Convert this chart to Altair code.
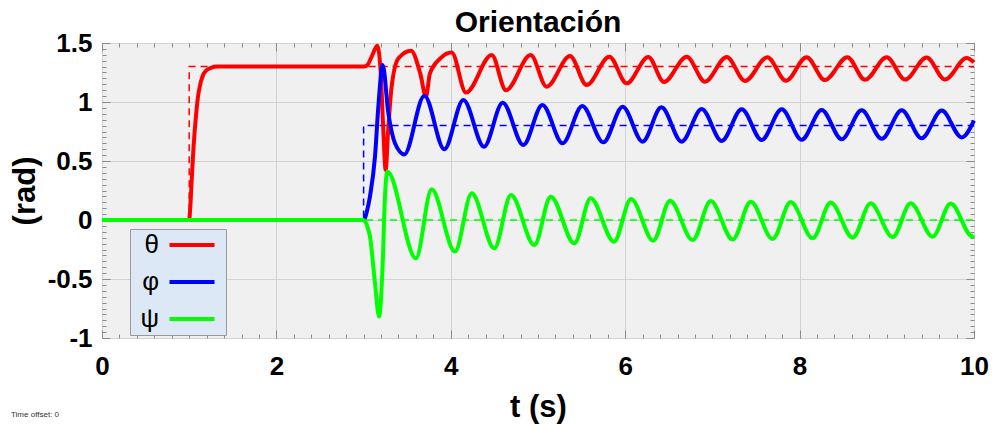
import altair as alt
import pandas as pd

# ---------------- data ----------------
series_names = ["θ", "φ", "ψ"]
series_colors = ["#ff0000", "#0000ff", "#00ff00"]

theta_t = [0, 1.0, 1.01, 1.03, 1.05, 1.08, 1.1, 1.13, 1.16, 1.2, 1.25, 1.32, 3.0, 3.04, 3.09, 3.157,
           3.2, 3.226, 3.253, 3.28, 3.32, 3.4, 3.544, 3.65, 3.716, 3.76, 3.88, 4.01, 4.174, 4.469,
           4.633, 4.916, 5.099, 5.367, 5.558, 5.818, 6.017, 6.265, 6.445, 6.705, 6.915, 7.164,
           7.374, 7.63, 7.844, 8.08, 8.29, 8.547, 8.75, 8.999, 9.21, 9.457, 9.667, 9.916, 10.0]
theta_v = [0, 0, 0.08, 0.36, 0.62, 0.9, 1.04, 1.16, 1.23, 1.27, 1.29, 1.3, 1.3, 1.31, 1.38, 1.477,
           1.2, 0.76, 0.424, 0.74, 1.12, 1.37, 1.435, 1.24, 1.045, 1.24, 1.37, 1.42, 1.08, 1.398,
           1.10, 1.398, 1.13, 1.39, 1.144, 1.384, 1.158, 1.382, 1.17, 1.384, 1.172, 1.382,
           1.178, 1.38, 1.18, 1.38, 1.186, 1.38, 1.188, 1.379, 1.19, 1.378, 1.19, 1.373, 1.336]

phi_t = [0, 3.0, 3.04, 3.073, 3.131, 3.169, 3.219, 3.284, 3.36, 3.467, 3.697, 3.926, 4.144, 4.381,
         4.595, 4.832, 5.05, 5.283, 5.508, 5.749, 5.971, 6.2, 6.415, 6.648, 6.877, 7.107, 7.336,
         7.565, 7.795, 8.024, 8.253, 8.483, 8.712, 8.942, 9.171, 9.4, 9.63, 9.859, 10.0]
phi_v = [0, 0, 0.08, 0.2, 0.54, 0.96, 1.314, 0.904, 0.65, 0.556, 1.054, 0.60, 1.017, 0.621,
         0.994, 0.636, 0.975, 0.65, 0.966, 0.658, 0.96, 0.664, 0.955, 0.664, 0.94, 0.67, 0.938,
         0.678, 0.938, 0.68, 0.932, 0.684, 0.93, 0.688, 0.93, 0.692, 0.927, 0.70, 0.842]

psi_t = [0, 3.0, 3.04, 3.073, 3.131, 3.177, 3.219, 3.245, 3.272, 3.6, 3.78, 4.048, 4.24, 4.499,
         4.69, 4.958, 5.146, 5.417, 5.604, 5.872, 6.067, 6.322, 6.514, 6.774, 6.98, 7.233, 7.44,
         7.69, 7.898, 8.15, 8.357, 8.609, 8.815, 9.067, 9.274, 9.526, 9.733, 9.98, 10.0]
psi_v = [0, 0, -0.05, -0.14, -0.537, -0.819, -0.367, 0.198, 0.41, -0.325, 0.26, -0.268, 0.226,
         -0.24, 0.212, -0.212, 0.198, -0.198, 0.184, -0.184, 0.178, -0.175, 0.164, -0.17, 0.16,
         -0.165, 0.155, -0.161, 0.152, -0.155, 0.148, -0.15, 0.141, -0.145, 0.141, -0.141, 0.14,
         -0.138, -0.13]

# reference (set-point) signals, drawn as step-after lines
ref_theta_t = [0, 1.0, 10.0]
ref_theta_v = [0, 1.3, 1.3]
ref_phi_t = [0, 3.0, 10.0]
ref_phi_v = [0, 0.8, 0.8]
ref_psi_t = [0, 10.0]
ref_psi_v = [0, 0]

x_major = [0, 2, 4, 6, 8, 10]
x_minor = [round(i * 0.2, 1) for i in range(51)]
y_major = [-1, -0.5, 0, 0.5, 1, 1.5]
y_minor = [round(-1 + i * 0.05, 2) for i in range(51)]


def frame(name, ts, vs):
    return pd.DataFrame({"series": name, "t": ts, "v": vs})


solid_df = pd.concat([frame("θ", theta_t, theta_v),
                      frame("φ", phi_t, phi_v),
                      frame("ψ", psi_t, psi_v)], ignore_index=True)
ref_df = pd.concat([frame("θ", ref_theta_t, ref_theta_v),
                    frame("φ", ref_phi_t, ref_phi_v),
                    frame("ψ", ref_psi_t, ref_psi_v)], ignore_index=True)

FONT = "Liberation Sans"
TICK = "#8a8a8a"
GRID = "#d2d2d2"

x_scale = alt.Scale(domain=[0, 10], nice=False, zero=False)
y_scale = alt.Scale(domain=[-1, 1.5], nice=False, zero=False)
color_scale = alt.Scale(domain=series_names, range=series_colors)

# axes: inward ticks made with a negative offset equal to the tick length
ax_x_main = alt.Axis(orient="bottom", values=x_major, tickSize=8, offset=-8, domain=False,
                     grid=True, gridColor=GRID, labelFlush=False, labelOverlap=False,
                     labelPadding=15, labelExpr="'' + datum.value", title="t (s)",
                     titlePadding=13, tickColor=TICK)
ax_x_minor = alt.Axis(orient="bottom", values=x_minor, tickSize=4, offset=-4, domain=False,
                      grid=False, labels=False, title=None, tickColor=TICK)
ax_x_top = alt.Axis(orient="top", values=x_major, tickSize=8, offset=-8, domain=False,
                    grid=False, labels=False, title=None, tickColor=TICK)
ax_x_top_minor = alt.Axis(orient="top", values=x_minor, tickSize=4, offset=-4, domain=False,
                          grid=False, labels=False, title=None, tickColor=TICK)

ax_y_main = alt.Axis(orient="left", values=y_major, tickSize=8, offset=-8, domain=False,
                     grid=True, gridColor=GRID, labelFlush=False, labelOverlap=False,
                     labelPadding=10, labelExpr="'' + datum.value", title="(rad)",
                     titlePadding=6, tickColor=TICK)
ax_y_minor = alt.Axis(orient="left", values=y_minor, tickSize=4, offset=-4, domain=False,
                      grid=False, labels=False, title=None, tickColor=TICK)
ax_y_right = alt.Axis(orient="right", values=y_major, tickSize=8, offset=-8, domain=False,
                      grid=False, labels=False, title=None, tickColor=TICK)
ax_y_right_minor = alt.Axis(orient="right", values=y_minor, tickSize=4, offset=-4, domain=False,
                            grid=False, labels=False, title=None, tickColor=TICK)

# legend: label first (right-aligned at its anchor), then a line sample to its right
legend = alt.Legend(orient="none", legendX=28, legendY=186, title=None, direction="vertical",
                    fillColor="#dde8f6", strokeColor="#9a9a9a", padding=3,
                    symbolType="M23.5,0L68.5,0", symbolSize=4, symbolStrokeWidth=4,
                    labelFont=FONT, labelFontSize=26, labelColor="black",
                    labelAlign="right", rowPadding=11, labelOffset=0)


def ref_layer(name, color, xa, ya):
    return alt.Chart(ref_df).transform_filter(alt.datum.series == name).mark_line(
        interpolate="step-after", strokeWidth=1.5, strokeDash=[7, 5], color=color
    ).encode(
        x=alt.X("t:Q", scale=x_scale, axis=xa),
        y=alt.Y("v:Q", scale=y_scale, axis=ya),
    )


def solid_layer(name, xa, ya):
    return alt.Chart(solid_df).transform_filter(alt.datum.series == name).mark_line(
        interpolate="monotone", strokeWidth=4
    ).encode(
        x=alt.X("t:Q", scale=x_scale, axis=xa),
        y=alt.Y("v:Q", scale=y_scale, axis=ya),
        color=alt.Color("series:N", scale=color_scale, legend=legend, sort=series_names),
    )


note = alt.Chart(pd.DataFrame({"label": ["Time offset:  0"]})).mark_text(
    align="left", baseline="middle", fontSize=8, font=FONT, color="#333333"
).encode(x=alt.value(-91), y=alt.value(372), text="label:N")

chart = alt.layer(
    ref_layer("θ", "#ff0000", ax_x_main, ax_y_main),
    ref_layer("φ", "#0000ff", ax_x_minor, ax_y_minor),
    ref_layer("ψ", "#00ff00", ax_x_top, ax_y_right),
    solid_layer("θ", ax_x_top_minor, ax_y_right_minor),
    solid_layer("φ", None, None),
    solid_layer("ψ", None, None),
    note,
).resolve_axis(x="independent", y="independent").properties(
    width=872, height=295,
    title=alt.TitleParams("Orientación", fontSize=30, font=FONT, fontWeight="bold",
                          anchor="middle", offset=8, dy=16, color="black"),
    autosize=alt.AutoSizeParams(type="none"),
    padding={"left": 102, "top": 43, "right": 21, "bottom": 87},
).configure_view(
    fill="#f0f0f0", stroke="#a0a0a0", strokeWidth=1
).configure_axis(
    labelFont=FONT, labelFontSize=26, labelFontWeight="bold", labelColor="black",
    titleFont=FONT, titleFontSize=31, titleFontWeight="bold", titleColor="black",
)

chart.save("out.html", embed_options={"renderer": "svg", "actions": False})
